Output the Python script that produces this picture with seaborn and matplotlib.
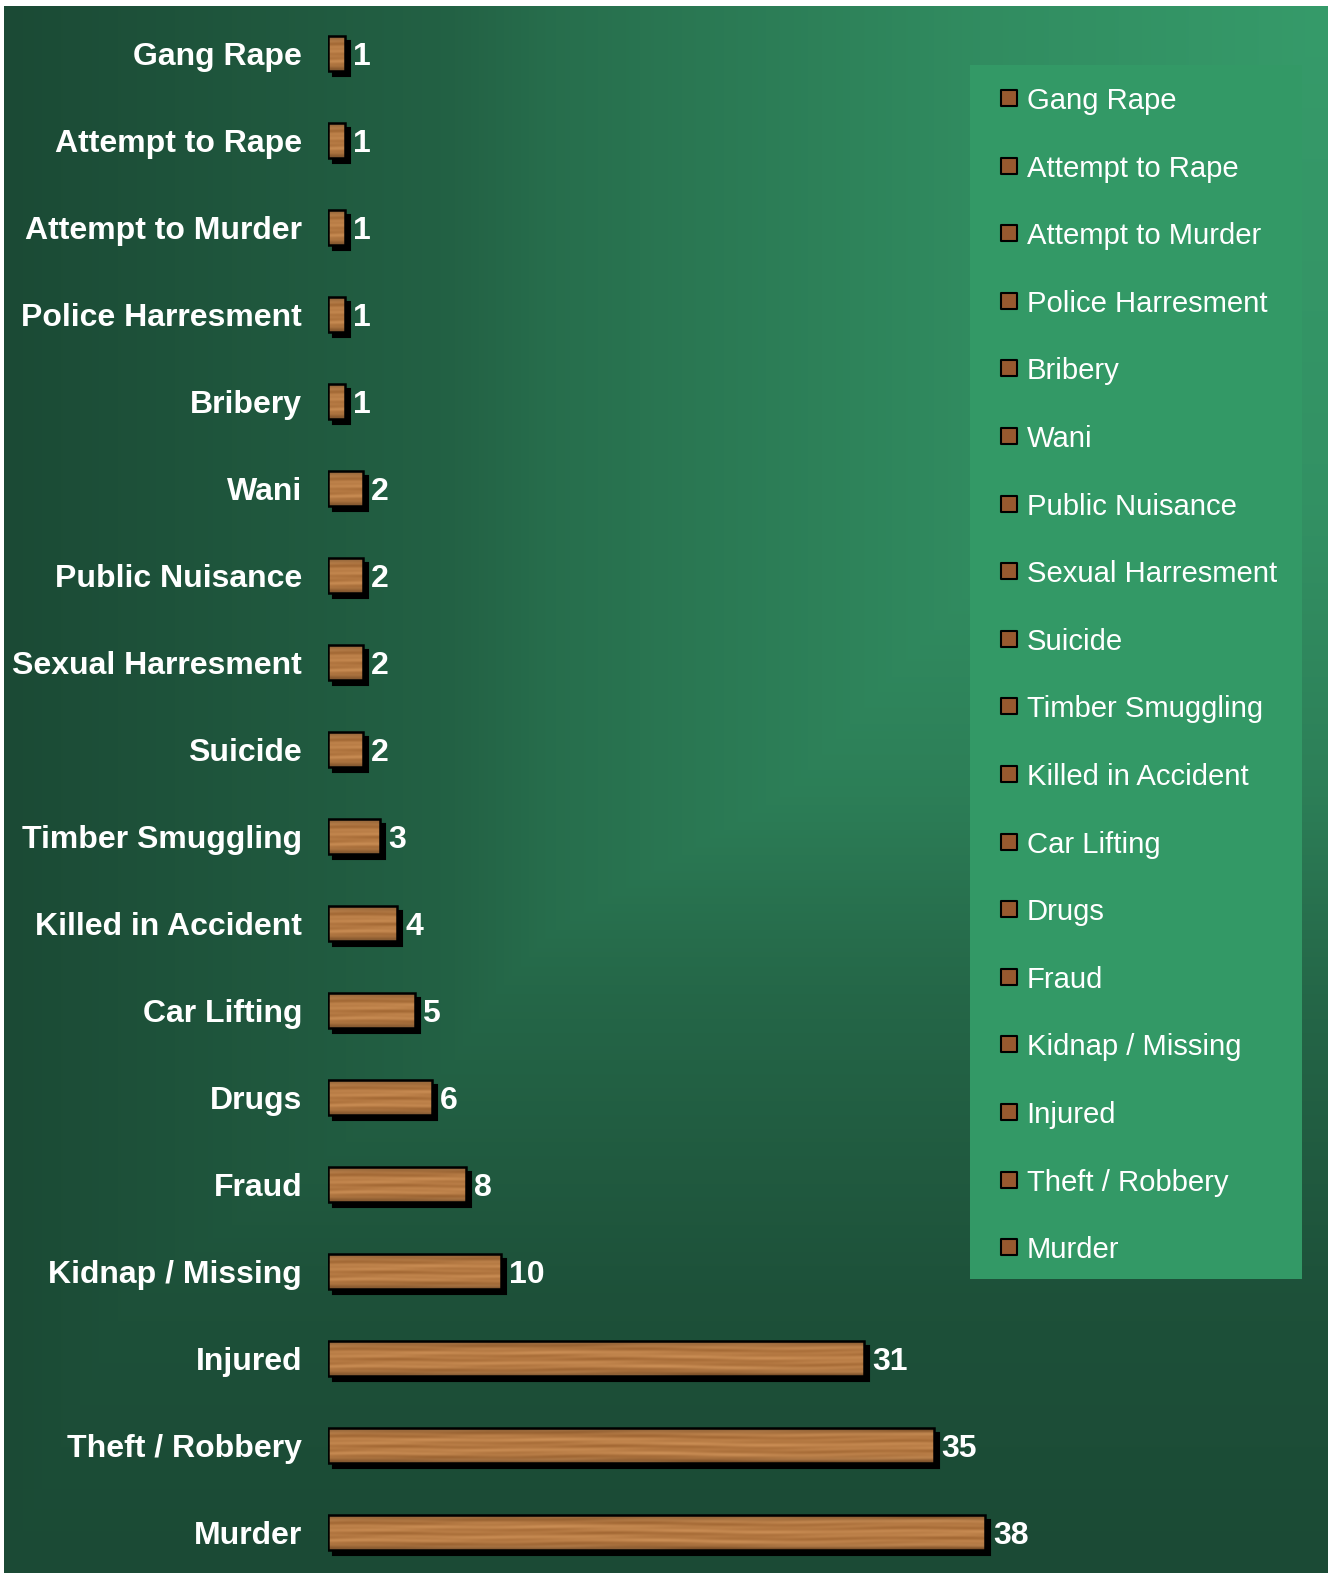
import numpy as np
import pandas as pd
import seaborn as sns
import matplotlib
matplotlib.use('Agg')
from matplotlib import pyplot as plt
from matplotlib.patches import Rectangle
import matplotlib.transforms as mtransforms

# 数据
categories = ['Gang Rape', 'Attempt to Rape', 'Attempt to Murder', 'Police Harresment',
              'Bribery', 'Wani', 'Public Nuisance', 'Sexual Harresment', 'Suicide',
              'Timber Smuggling', 'Killed in Accident', 'Car Lifting', 'Drugs', 'Fraud',
              'Kidnap / Missing', 'Injured', 'Theft / Robbery', 'Murder']
counts = [1, 1, 1, 1, 1, 2, 2, 2, 2, 3, 4, 5, 6, 8, 10, 31, 35, 38]

df = pd.DataFrame({'crime': categories, 'count': counts})

sns.set_theme(style='white')
plt.rcParams['font.family'] = ['Liberation Sans', 'DejaVu Sans']

W, H = 1328, 1573
fig = plt.figure(figsize=(W / 100, H / 100), dpi=100)
fig.patch.set_facecolor('white')

# 背景渐变
bg = fig.add_axes([4 / W, 0, (W - 4) / W, (H - 6) / H])
bx = np.arange(4, W)
by = np.arange(6, H)
u = np.interp(bx, [4, 450, 550, 970, 1328], [0, 0.29, 0.44, 0.81, 1.0])
v = np.interp(by, [6, 500, 791, 925, 1000, 1300, 1573], [1, 0.88, 0.65, 0.45, 0.35, 0.08, 0])
t = np.minimum(u[None, :], v[:, None])
dark = np.array([0x1b, 0x4a, 0x35]) / 255
light = np.array([0x36, 0x9b, 0x6a]) / 255
bg.imshow(dark + (light - dark) * t[..., None], aspect='auto', interpolation='bilinear')
bg.set_axis_off()

# 主图
ax = fig.add_axes([328 / W, 0, 1000 / W, (H - 6) / H])
ax.set_facecolor('none')
sns.barplot(data=df, x='count', y='crime', orient='h', color='#b57840',
            width=0.40, linewidth=0, ax=ax, zorder=2)

# 木纹贴图
th, tw = 48, 1100
yy = np.linspace(0, 1, th)[:, None]
xx = np.arange(tw)[None, :]
g = (0.5 + 0.16 * np.sin(2 * np.pi * (yy * 3 + 0.3 * np.sin(xx / 120.0)))
     + 0.10 * np.sin(2 * np.pi * (yy * 7 + 0.2 * np.sin(xx / 45.0 + 1.0)))
     + 0.08 * np.sin(xx / 23.0 + 4 * yy) * np.sin(2 * np.pi * yy * 4 + xx / 60.0))
g = np.clip(g, 0, 1)
wd = np.array([0.60, 0.37, 0.17])
wl = np.array([0.84, 0.60, 0.37])
tex = wd + (wl - wd) * g[..., None]
tex = tex * (1 - 0.35 * np.abs(2 * yy - 1) ** 5)[..., None]
tex = np.clip(tex, 0, 1)

shadow_tr = mtransforms.offset_copy(ax.transData, fig=fig, x=5, y=-5, units='dots')
for p, val in zip(ax.patches, counts):
    x0, y0 = p.get_xy()
    w, h = p.get_width(), p.get_height()
    ax.add_patch(Rectangle((x0, y0), w, h, fc='black', ec='black', lw=1.5,
                           transform=shadow_tr, zorder=1.5))
    n = max(int(val * 17.3) + 2, 4)
    im = ax.imshow(tex[:, :n], extent=(x0, x0 + w, y0 + h, y0), aspect='auto',
                   interpolation='bilinear', zorder=2.5)
    im.set_clip_path(p)
    ax.add_patch(Rectangle((x0, y0), w, h, fill=False, ec='black', lw=1.8, zorder=3))

for i, val in enumerate(counts):
    ax.annotate(str(val), xy=(val, i), xytext=(8, 0), textcoords='offset pixels',
                va='center_baseline', ha='left', color='white', fontsize=23,
                fontweight='bold')

ax.set_xlim(0, 1000 / 17.3)
ax.set_ylim(-0.543 + 1567 / 87.0, -0.543)
ax.set_xticks([])
ax.set_xlabel('')
ax.set_ylabel('')
ax.tick_params(axis='y', length=0, pad=18.7, labelsize=23, labelcolor='white')
for lbl in ax.get_yticklabels():
    lbl.set_fontweight('bold')
sns.despine(ax=ax, left=True, bottom=True)

# 图例
lax = fig.add_axes([970 / W, (H - 1279) / H, 332 / W, 1214 / H])
lax.set_facecolor('#339966')
lax.scatter(np.full(len(categories), 39), np.arange(len(categories)), marker='s',
            s=132, c='#98592f', edgecolors='black', linewidths=1.5, zorder=3)
for i, name in enumerate(categories):
    lax.text(56.7, i, name, va='center_baseline', ha='left', color='white', fontsize=21.1)
lax.set_xlim(0, 332)
lax.set_ylim(17.47, -0.49)
lax.set_xticks([])
lax.set_yticks([])
for s in lax.spines.values():
    s.set_visible(False)

fig.savefig('out.png', dpi=100, facecolor=fig.get_facecolor())
